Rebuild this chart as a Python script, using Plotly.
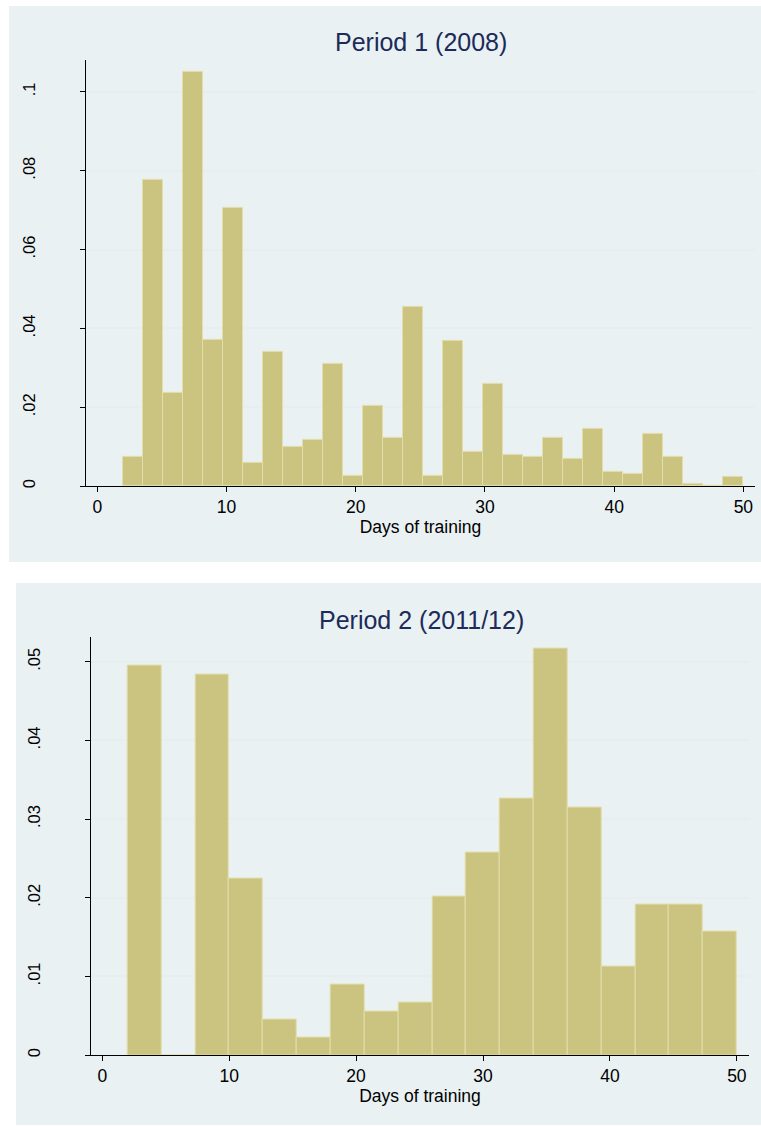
import plotly.graph_objects as go

# ---- data ----
p1_bin_start = 2.0
p1_bin_width = 48 / 31
p1_density = [0.0073, 0.0777, 0.0237, 0.1050, 0.0370, 0.0705, 0.0060, 0.0341,
              0.0100, 0.0118, 0.0309, 0.0027, 0.0204, 0.0122, 0.0454, 0.0027,
              0.0368, 0.0086, 0.0259, 0.0078, 0.0073, 0.0122, 0.0068, 0.0145,
              0.0037, 0.0032, 0.0132, 0.0073, 0.0006, 0.0, 0.0023]

p2_bin_start = 2.0
p2_bin_width = 48 / 18
p2_density = [0.0495, 0.0, 0.0484, 0.0225, 0.0045, 0.0022, 0.0090, 0.0056,
              0.0067, 0.0202, 0.0258, 0.0326, 0.0517, 0.0315, 0.0113, 0.0191,
              0.0191, 0.0157]

p1_title = "Period 1 (2008)"
p2_title = "Period 2 (2011/12)"
x_title = "Days of training"
x_ticks = [0, 10, 20, 30, 40, 50]
p1_yticks = [0, 0.02, 0.04, 0.06, 0.08, 0.1]
p1_yticktext = ["0", ".02", ".04", ".06", ".08", ".1"]
p2_yticks = [0, 0.01, 0.02, 0.03, 0.04, 0.05]
p2_yticktext = ["0", ".01", ".02", ".03", ".04", ".05"]

W, H = 761, 1127
BG = "#e9f1f3"
BAR_FILL = "#cbc380"
BAR_LINE = "#e3dda8"
GRID = "#e6eef0"
TITLE_COLOR = "#1c2b58"
FONT = "Liberation Sans, Arial, sans-serif"


def centers(start, width, n):
    return [start + width * (i + 0.5) for i in range(n)]


fig = go.Figure()
fig.add_trace(go.Bar(
    x=centers(p1_bin_start, p1_bin_width, len(p1_density)), y=p1_density,
    width=p1_bin_width, marker=dict(color=BAR_FILL, line=dict(color=BAR_LINE, width=1)),
    xaxis="x", yaxis="y", showlegend=False))
fig.add_trace(go.Bar(
    x=centers(p2_bin_start, p2_bin_width, len(p2_density)), y=p2_density,
    width=p2_bin_width, marker=dict(color=BAR_FILL, line=dict(color=BAR_LINE, width=1)),
    xaxis="x2", yaxis="y2", showlegend=False))


def py(px):
    return (H - px) / H


common_x = dict(
    tickmode="array", tickvals=x_ticks, ticks="outside", ticklen=5, tickcolor="#000",
    showline=True, linecolor="#000", linewidth=1, showgrid=False, zeroline=False,
    tickfont=dict(size=17.5, color="#000", family=FONT),
    title=dict(text=x_title, font=dict(size=17.5, color="#000", family=FONT), standoff=4),
)
common_y = dict(
    tickmode="array", ticks="outside", ticklen=5, tickcolor="#000",
    showline=True, linecolor="#000", linewidth=1, showgrid=True, gridcolor=GRID,
    gridwidth=1.5, zeroline=False, tickangle=-90, ticklabelstandoff=38,
    tickfont=dict(size=16.5, color="#000", family=FONT),
)

fig.update_layout(
    width=W, height=H, margin=dict(l=0, r=0, t=0, b=0),
    paper_bgcolor="white", plot_bgcolor="white", bargap=0,
    font=dict(family=FONT),
    xaxis=dict(domain=[86 / W, 755 / W], range=[-0.87, 50.9], anchor="y", **common_x),
    yaxis=dict(domain=[py(487), py(60)], range=[0, 0.1081], anchor="x",
               tickvals=p1_yticks, ticktext=p1_yticktext, **common_y),
    xaxis2=dict(domain=[90.7 / W, 749.3 / W], range=[-0.91, 50.98], anchor="y2", **common_x),
    yaxis2=dict(domain=[py(1057), py(637.7)], range=[0, 0.0532], anchor="x2",
                tickvals=p2_yticks, ticktext=p2_yticktext, **common_y),
    shapes=[
        dict(type="rect", xref="paper", yref="paper", x0=9 / W, x1=1, y0=py(563), y1=py(6),
             fillcolor=BG, line=dict(width=0), layer="below"),
        dict(type="rect", xref="paper", yref="paper", x0=16 / W, x1=1, y0=0, y1=py(584),
             fillcolor=BG, line=dict(width=0), layer="below"),
    ],
    annotations=[
        dict(text=p1_title, xref="paper", yref="paper", x=421 / W, y=py(42),
             xanchor="center", yanchor="middle", showarrow=False,
             font=dict(size=25, color=TITLE_COLOR, family=FONT)),
        dict(text=p2_title, xref="paper", yref="paper", x=421 / W, y=py(621),
             xanchor="center", yanchor="middle", showarrow=False,
             font=dict(size=25, color=TITLE_COLOR, family=FONT)),
    ],
)

fig.write_html(
    "out.html",
    config={"displayModeBar": False},
    post_script="document.documentElement.style.margin='0';document.body.style.margin='0';"
                "document.body.style.overflow='hidden';",
)
